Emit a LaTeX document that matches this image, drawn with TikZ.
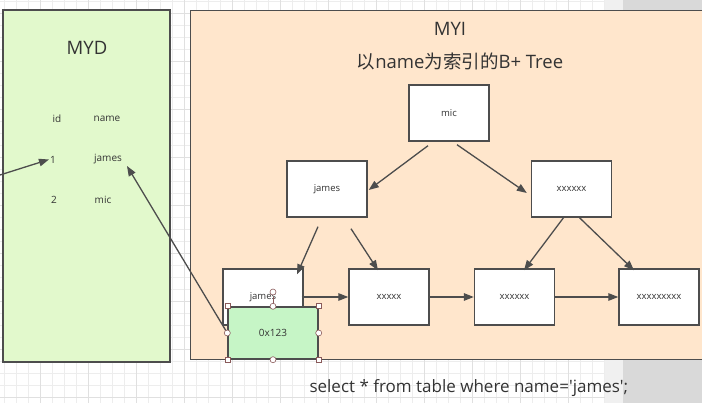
\documentclass[tikz,border=0pt]{standalone}
\usepackage{fontspec}
\setmainfont{Open Sans}
\newfontfamily\cjk{Noto Sans CJK SC}
\usetikzlibrary{arrows.meta}
\definecolor{txt}{HTML}{333333}
\definecolor{edge}{HTML}{4D4D4D}
\definecolor{mydfill}{HTML}{E2F9CC}
\definecolor{myifill}{HTML}{FFE6CC}
\definecolor{ptrfill}{HTML}{C6F5C6}
\definecolor{gridmin}{HTML}{EDEDED}
\definecolor{gridmaj}{HTML}{E0E0E0}
\definecolor{handle}{HTML}{8A5A5A}
\begin{document}
\begin{tikzpicture}[x=1pt,y=-1pt,
  panel/.style={draw=edge,line width=1.4pt},
  treebox/.style={draw=edge,line width=1.4pt,fill=white,minimum width=80pt,minimum height=56pt,inner sep=0pt,font=\fontsize{9.5}{12}\selectfont,text=txt},
  cell/.style={font=\fontsize{10}{12}\selectfont,text=txt,inner sep=1pt},
  title/.style={font=\fontsize{18.5}{22}\selectfont,text=txt},
  link/.style={draw=edge,line width=1.3pt,-{Triangle[length=10pt,width=7.5pt]}},
  hsq/.style={draw=handle,fill=white,line width=0.6pt,minimum size=5pt,inner sep=0pt},
  hci/.style={draw=handle,fill=white,line width=0.6pt,circle,minimum size=6pt,inner sep=0pt}]
\useasboundingbox (0,0) rectangle (702,403);
% background
\fill[white] (0,0) rectangle (702,403);
\foreach \gx in {4,16,...,604} \draw[gridmin,line width=0.6pt] (\gx,0) -- (\gx,403);
\foreach \gy in {1,13,...,403} \draw[gridmin,line width=0.6pt] (0,\gy) -- (605,\gy);
\foreach \gx in {40,88,...,604} \draw[gridmaj,line width=0.8pt] (\gx,0) -- (\gx,403);
\foreach \gy in {13,61,...,403} \draw[gridmaj,line width=0.8pt] (0,\gy) -- (605,\gy);
\fill[gray!12] (605,0) rectangle (623,403);
\fill[gray!30] (623,0) rectangle (702,403);
% panels
\node[panel,fill=mydfill,minimum width=167pt,minimum height=352pt,inner sep=0pt] (myd) at (86.5,186) {};
\node[panel,fill=myifill,minimum width=530pt,minimum height=349pt,inner sep=0pt,anchor=north west] (myi) at (190,10) {};
\node[title] (mydt) at (87,48) {MYD};
\node[title] (myit) at (450,29) {MYI};
\node[title] (myis) at (460,61) {{\cjk 以}name{\cjk 为索引的}B+ Tree};
% MYD table
\node[cell] (hid) at (57,118.5) {id};
\node[cell] (hname) at (107,118.5) {name};
\node[cell] (r1id) at (53,159.5) {1};
\node[cell] (r1name) at (108,159.5) {james};
\node[cell] (r2id) at (54,199.5) {2};
\node[cell] (r2name) at (103,199.5) {mic};
% tree
\node[treebox] (root) at (449,113) {mic};
\node[treebox] (lmid) at (327,189) {james};
\node[treebox] (rmid) at (571.5,189) {xxxxxx};
\node[treebox] (leaf1) at (263,297) {james};
\node[treebox] (leaf2) at (389,297) {xxxxx};
\node[treebox] (leaf3) at (514.5,297) {xxxxxx};
\node[treebox] (leaf4) at (659,297) {xxxxxxxxx};
\draw[link] ([xshift=-21pt,yshift=-4pt]root.south) -- ([xshift=1pt,yshift=-1pt]lmid.east);
\draw[link] ([xshift=8pt,yshift=-3pt]root.south) -- ([xshift=-4pt,yshift=-4pt]rmid.west);
\draw[link] ([xshift=-9pt,yshift=-9pt]lmid.south) -- ([xshift=34pt,yshift=-6pt]leaf1.north);
\draw[link] ([xshift=24pt,yshift=-11pt]lmid.south) -- ([xshift=-11pt,yshift=-2pt]leaf2.north);
\draw[link] ([xshift=-8pt]rmid.south) -- ([xshift=9.5pt,yshift=-2pt]leaf3.north);
\draw[link] ([xshift=8pt]rmid.south) -- ([xshift=-25pt,yshift=-2pt]leaf4.north);
\draw[link] ([xshift=-2pt]leaf1.east) -- (leaf2.west);
\draw[link] (leaf2.east) -- (leaf3.west);
\draw[link] (leaf3.east) -- (leaf4.west);
% pointer box
\node[draw=edge,line width=1.4pt,fill=ptrfill,minimum width=90pt,minimum height=52pt,inner sep=0pt,font=\fontsize{10}{12}\selectfont,text=txt] (ptr) at (273,333) {0x123};
\coordinate (into) at (0,175);
\coordinate (jtip) at (127,166);
\draw[link] (into) -- (r1id.west);
\draw[link] (ptr.west) -- (jtip);
% selection handles
\draw[handle,line width=0.6pt] (273,297) -- (ptr.north);
\node[hci] (hrot) at (273,292) {};
\node[hsq] (h1) at (ptr.north west) {};
\node[hsq] (h2) at (ptr.north east) {};
\node[hsq] (h3) at (ptr.south west) {};
\node[hsq] (h4) at (ptr.south east) {};
\node[hci] (h5) at (ptr.north) {};
\node[hci] (h6) at (ptr.south) {};
\node[hci] (h7) at (ptr.west) {};
\node[hci] (h8) at (ptr.east) {};
% query
\node[title,anchor=west,font=\fontsize{17}{20}\selectfont] (query) at (306,388) {select * from table where name=\textquotesingle james\textquotesingle;};
\end{tikzpicture}
\end{document}
